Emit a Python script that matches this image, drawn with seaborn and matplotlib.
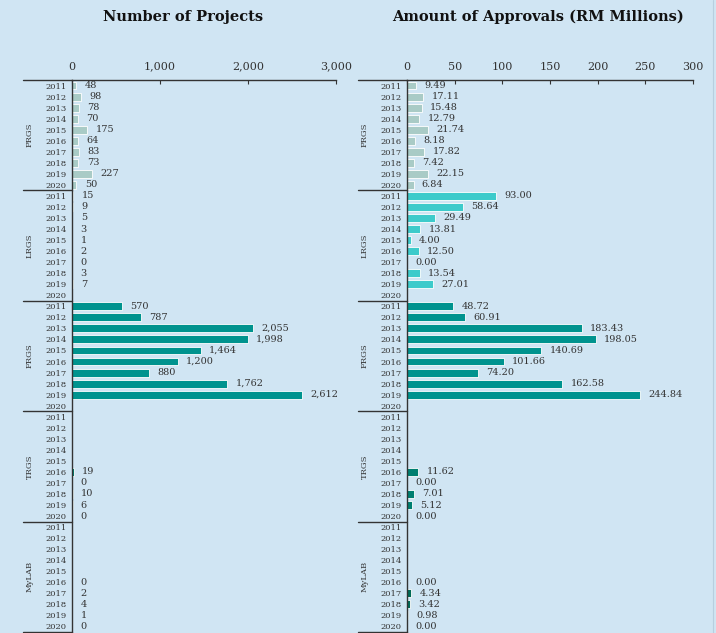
import numpy as np
import pandas as pd
import matplotlib
matplotlib.use("Agg")
import matplotlib.pyplot as plt
import matplotlib.transforms as mtransforms
import seaborn as sns

# ==============================================================================
# DATA
# ==============================================================================
PROGRAMS = ["PRGS", "LRGS", "FRGS", "TRGS", "MyLAB"]
YEARS = [str(y) for y in range(2011, 2021)]
NA = np.nan

projects_prgs = [48, 98, 78, 70, 175, 64, 83, 73, 227, 50]
projects_lrgs = [15, 9, 5, 3, 1, 2, 0, 3, 7, NA]
projects_frgs = [570, 787, 2055, 1998, 1464, 1200, 880, 1762, 2612, NA]
projects_trgs = [NA, NA, NA, NA, NA, 19, 0, 10, 6, 0]
projects_mylab = [NA, NA, NA, NA, NA, 0, 2, 4, 1, 0]

amount_prgs = [9.49, 17.11, 15.48, 12.79, 21.74, 8.18, 17.82, 7.42, 22.15, 6.84]
amount_lrgs = [93.00, 58.64, 29.49, 13.81, 4.00, 12.50, 0.00, 13.54, 27.01, NA]
amount_frgs = [48.72, 60.91, 183.43, 198.05, 140.69, 101.66, 74.20, 162.58, 244.84, NA]
amount_trgs = [NA, NA, NA, NA, NA, 11.62, 0.00, 7.01, 5.12, 0.00]
amount_mylab = [NA, NA, NA, NA, NA, 0.00, 4.34, 3.42, 0.98, 0.00]

COLORS = {
    "PRGS": "#a9cbc6",
    "LRGS": "#3dcbcb",
    "FRGS": "#00938e",
    "TRGS": "#007f70",
    "MyLAB": "#006a56",
}
BG = "#d0e5f3"
INK = "#333333"

projects = [projects_prgs, projects_lrgs, projects_frgs, projects_trgs, projects_mylab]
amounts = [amount_prgs, amount_lrgs, amount_frgs, amount_trgs, amount_mylab]

rows = []
for prog, pv, av in zip(PROGRAMS, projects, amounts):
    for yr, p, a in zip(YEARS, pv, av):
        rows.append({"key": f"{prog}|{yr}", "program": prog, "year": yr,
                     "projects": p, "amount": a})
df = pd.DataFrame(rows)

sns.set_style("white")
plt.rcParams["font.family"] = ["DejaVu Serif"]

fig = plt.figure(figsize=(7.16, 6.33), dpi=100, facecolor=BG)

W, H = 716, 633
top_px, bot_px = 80, 632
panels = [
    ("projects", 72, 336, 3000, [0, 1000, 2000, 3000], "{:,.0f}",
     "Number of Projects", 183),
    ("amount", 407, 693, 300, [0, 50, 100, 150, 200, 250, 300], "{:.2f}",
     "Amount of Approvals (RM Millions)", 538),
]

for col, x0, x1, xmax, ticks, fmt, title, tx in panels:
    ax = fig.add_axes([x0 / W, 1 - bot_px / H, (x1 - x0) / W, (bot_px - top_px) / H])
    ax.set_facecolor(BG)
    sns.barplot(data=df, x=col, y="key", hue="program", palette=COLORS,
                dodge=False, orient="h", width=0.72, saturation=1,
                edgecolor="white", linewidth=0.6, legend=False, ax=ax)
    ax.set_xlim(0, xmax)
    ax.set_ylim(len(df) - 0.5, -0.5)
    ax.xaxis.tick_top()
    ax.set_xticks(ticks)
    ax.set_xticklabels([f"{t:,}" for t in ticks], fontsize=8, color=INK)
    ax.tick_params(axis="x", direction="in", length=3, pad=6, color=INK)
    ax.set_yticks(range(len(df)))
    ax.set_yticklabels(df["year"], fontsize=6, color=INK)
    ax.tick_params(axis="y", length=0, pad=4)
    ax.set_yticks(np.arange(-0.5, len(df), 1), minor=True)
    ax.tick_params(axis="y", which="minor", direction="inout", length=3,
                   width=0.8, color=INK)
    ax.set_xlabel("")
    ax.set_ylabel("")
    for s in ["right", "bottom"]:
        ax.spines[s].set_visible(False)
    ax.spines["top"].set_color(INK)
    ax.spines["left"].set_color(INK)
    ax.spines["top"].set_linewidth(1.0)
    ax.spines["left"].set_linewidth(1.0)

    # value labels
    for i, v in enumerate(df[col]):
        if np.isnan(v):
            continue
        ax.annotate(fmt.format(v), (v, i), xytext=(6, 0), textcoords="offset points",
                    va="center", ha="left", fontsize=7, color=INK)

    # group labels and separators
    trans = mtransforms.blended_transform_factory(ax.transAxes, ax.transData)
    sep_x = 49 / (x1 - x0)
    lab_x = 42 / (x1 - x0)
    for g, prog in enumerate(PROGRAMS):
        y_top = g * 10 - 0.5
        ax.plot([-sep_x, 0], [y_top, y_top], transform=trans, color=INK,
                lw=1.0, clip_on=False)
        ax.text(-lab_x, g * 10 + 4.5, prog, transform=trans, rotation=90,
                ha="center", va="center", fontsize=6, color=INK)
    ax.plot([-sep_x, 0], [len(df) - 0.5] * 2, transform=trans, color=INK,
            lw=1.0, clip_on=False)

    fig.text(tx / W, 1 - 17 / H, title, ha="center", va="center",
             fontsize=10.5, fontweight="bold", color="#111111")

# right frame edge
fig.add_artist(plt.Line2D([713 / W, 713 / W], [0, 1], color="#b8cfdf", lw=0.8))

fig.savefig("out.png", dpi=100, facecolor=BG)
